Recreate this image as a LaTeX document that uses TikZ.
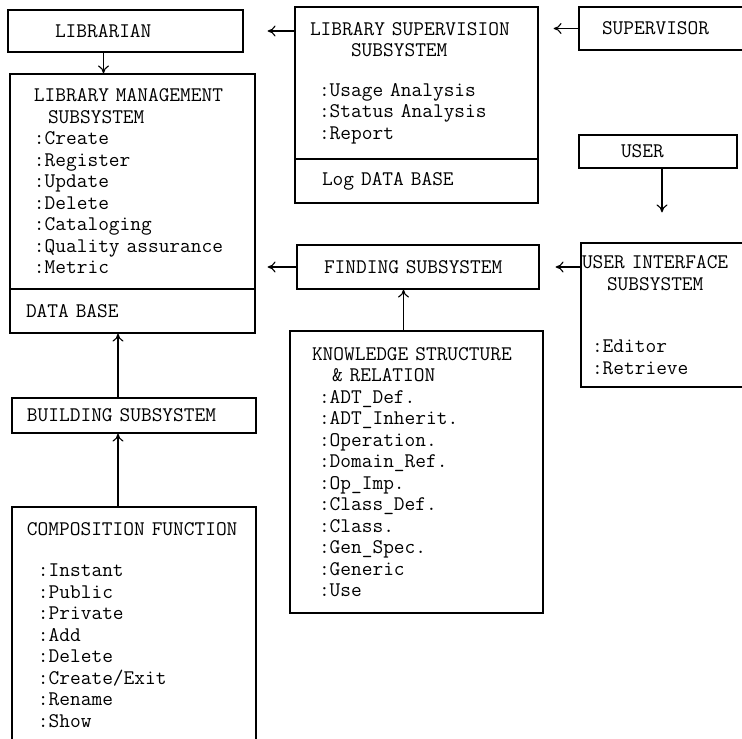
\documentclass[tikz,border=0pt]{standalone}
\usetikzlibrary{arrows.meta}
\begin{document}
\begin{tikzpicture}[x=1pt,y=-1pt,
	every node/.style={black,font=\ttfamily\fontsize{20.8}{21.5}\selectfont},
	box/.style={draw,line width=1.2pt,rectangle,align=left,inner ysep=0pt},
	arr/.style={line width=1.1pt,-{To[length=8pt,width=11pt]}}]
	\useasboundingbox (0,0) rectangle (742,739);

	% top row
	\node[box,minimum height=42pt,inner xsep=47pt,text width=141pt] (librarian) at (125.5,31) {LIBRARIAN};
	\node[box,minimum height=152pt,inner xsep=15pt,text width=213pt] (lss) at (416.5,83)
		{LIBRARY SUPERVISION\\\hspace*{41pt}SUBSYSTEM\\[18pt]
		 \hspace*{9pt}:Usage Analysis\\\hspace*{9pt}:Status Analysis\\\hspace*{9pt}:Report};
	\node[box,minimum height=44pt,inner xsep=27pt,text width=189pt] (lssdb) at (416.5,181) {Log DATA BASE};
	\node[box,minimum height=43pt,inner xsep=23pt,text width=121pt] (supervisor) at (662.5,28.5) {SUPERVISOR};

	% management side
	\node[box,minimum height=215pt,inner xsep=24pt,text width=197pt] (mgmt) at (132.5,181.5)
		{LIBRARY MANAGEMENT\\\hspace*{14pt}SUBSYSTEM\\:Create\\:Register\\:Update\\:Delete\\:Cataloging\\:Quality assurance\\:Metric};
	\node[box,minimum height=44pt,inner xsep=16pt,text width=213pt] (mgmtdb) at (132.5,311) {DATA BASE};
	\node[box,minimum height=35pt,inner xsep=15pt,text width=214pt] (building) at (134,415.5) {BUILDING SUBSYSTEM};
	\node[box,minimum height=236pt,inner xsep=15pt,text width=214pt] (comp) at (134,625)
		{COMPOSITION FUNCTION\\[20pt]
		 \hspace*{11pt}:Instant\\\hspace*{11pt}:Public\\\hspace*{11pt}:Private\\\hspace*{11pt}:Add\\
		 \hspace*{11pt}:Delete\\\hspace*{11pt}:Create/Exit\\\hspace*{11pt}:Rename\\\hspace*{11pt}:Show};

	% finding side
	\node[box,minimum height=44pt,inner xsep=27pt,text width=188pt] (finding) at (418,267) {FINDING SUBSYSTEM};
	\node[box,minimum height=282pt,inner xsep=22pt,text width=209pt] (ksr) at (416.5,472)
		{KNOWLEDGE STRUCTURE\\\hspace*{20pt}\& RELATION\\
		 \hspace*{7pt}:ADT\_Def.\\\hspace*{7pt}:ADT\_Inherit.\\\hspace*{7pt}:Operation.\\\hspace*{7pt}:Domain\_Ref.\\
		 \hspace*{7pt}:Op\_Imp.\\\hspace*{7pt}:Class\_Def.\\\hspace*{7pt}:Class.\\\hspace*{7pt}:Gen\_Spec.\\
		 \hspace*{7pt}:Generic\\\hspace*{7pt}:Use};

	% user side
	\node[box,minimum height=33pt,inner xsep=42pt,text width=74pt] (user) at (658,151.5) {USER};
	\node[box,minimum height=144pt,inner xsep=1pt,text width=163pt] (ui) at (663.5,315)
		{USER INTERFACE\\\hspace*{25pt}SUBSYSTEM\\[41pt]\hspace*{10pt}:Editor\\\hspace*{10pt}:Retrieve};

	% connectors
	\draw[arr,shorten >=24pt] (lss.west |- librarian.east) -- (librarian.east);
	\draw[arr,shorten >=15pt] (supervisor.west) -- (supervisor.west -| lss.east);
	\draw[arr] ([xshift=-22pt]librarian.south) -- ([xshift=-22pt]librarian.south |- mgmt.north);
	\draw[arr,shorten >=30pt] ([xshift=4pt]user.south) -- ([xshift=4pt]user.south |- ui.north);
	\draw[arr,shorten >=16pt] (ui.west |- finding.east) -- (finding.east);
	\draw[arr,shorten >=12pt] (finding.west) -- (finding.west -| mgmt.east);
	\draw[arr] ([xshift=-13pt]ksr.north) -- ([xshift=-13pt]ksr.north |- finding.south);
	\draw[arr] ([xshift=-16pt]building.north) -- ([xshift=-16pt]building.north |- mgmtdb.south);
	\draw[arr] ([xshift=-16pt]comp.north) -- ([xshift=-16pt]comp.north |- building.south);
\end{tikzpicture}
\end{document}
